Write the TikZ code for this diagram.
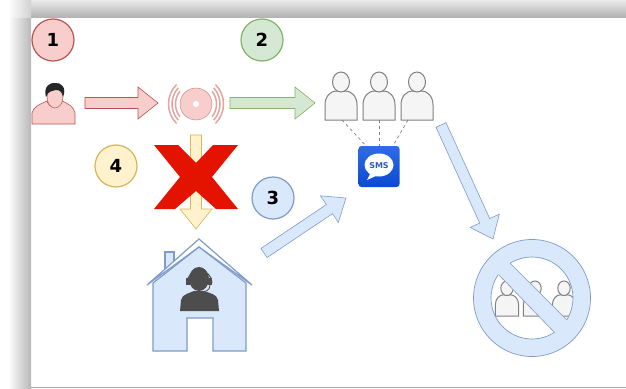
\documentclass[tikz,border=0pt]{standalone}
\usepackage{fontspec}
\usepackage{tikz}
\usetikzlibrary{calc}
\setmainfont{DejaVu Sans}

\definecolor{redfill}{HTML}{F8CECC}
\definecolor{redline}{HTML}{B85450}
\definecolor{greenfill}{HTML}{D5E8D4}
\definecolor{greenline}{HTML}{82B366}
\definecolor{yellowfill}{HTML}{FFF2CC}
\definecolor{yellowline}{HTML}{D6B656}
\definecolor{bluefill}{HTML}{DAE8FC}
\definecolor{blueline}{HTML}{7E9CC6}
\definecolor{grayfill}{HTML}{F5F5F5}
\definecolor{grayline}{HTML}{808080}
\definecolor{agent}{HTML}{4D4D4D}
\definecolor{crossred}{HTML}{E31300}
\definecolor{smstop}{HTML}{2F6CE6}
\definecolor{smsbottom}{HTML}{0A4AD2}
\definecolor{ringpink}{HTML}{E3A3A1}

\tikzset{
	badge/.style={circle,draw=#1line,fill=#1fill,line width=1.2pt,minimum size=42pt,inner sep=0pt,font=\fontsize{18}{18}\selectfont\bfseries},
	blockarrow/.style={draw=#1line,fill=#1fill,line width=.6pt,to path={
		($(\tikztostart)!5.5pt!90:(\tikztotarget)$)
		-- ($(\tikztotarget)!20.7pt!-15.4:(\tikztostart)$)
		-- ($(\tikztotarget)!25.6pt!-38.7:(\tikztostart)$)
		-- (\tikztotarget)
		-- ($(\tikztotarget)!25.6pt!38.7:(\tikztostart)$)
		-- ($(\tikztotarget)!20.7pt!15.4:(\tikztostart)$)
		-- ($(\tikztostart)!5.5pt!-90:(\tikztotarget)$) -- cycle}},
	ringarc/.style={draw=ringpink,line width=1.5pt},
	person/.pic={
		\draw[draw=grayline,fill=grayfill,line width=1pt] (-16,0) -- (-16,-15) .. controls (-16,-24) and (-10,-29) .. (-5,-29) -- (5,-29) .. controls (10,-29) and (16,-24) .. (16,-15) -- (16,0) -- cycle;
		\draw[draw=grayline,fill=grayfill,line width=1pt] (0,-38) ellipse[x radius=8.5,y radius=10];
	}
}

\begin{document}
\begin{tikzpicture}[x=1pt,y=-1pt]
	\useasboundingbox (0,0) rectangle (626,388);

	% frame shadow
	\shade[left color=white,right color=black!28] (8,17) rectangle (31,388);
	\shade[top color=black!8,bottom color=black!30] (31,0) rectangle (626,17);
	\shade[left color=white,right color=black!18] (8,0) rectangle (31,17);
	\fill[black!35] (31,387) rectangle (626,388);

	\coordinate (A1) at (85,103);
	\coordinate (A2) at (158,103);
	\coordinate (G1) at (230,103);
	\coordinate (G2) at (315,103);
	\coordinate (Y1) at (196,135);
	\coordinate (Y2) at (196,229);
	\coordinate (H1) at (264,253);
	\coordinate (H2) at (346,198);
	\coordinate (U1) at (441,125);
	\coordinate (U2) at (493,239);

	\node[badge=red] (B1) at (53,40) {1};
	\node[badge=green] (B2) at (262,40) {2};
	\node[badge=blue] (B3) at (273,198) {3};
	\node[badge=yellow] (B4) at (116,166) {4};

	% caller
	\draw[draw=redline,fill=redfill,line width=.6pt] (32,124) -- (32,113) .. controls (33,107) and (40,104) .. (47,101) .. controls (49,109) and (60,109) .. (62,101) .. controls (69,104) and (74,107) .. (75,113) -- (75,124) -- cycle;
	\draw[draw=redline,fill=redfill,line width=.5pt] (55,97) ellipse[x radius=8,y radius=11];
	\fill[black!85] (46,97) .. controls (43,87) and (50,82) .. (55,83) .. controls (61,82) and (67,88) .. (63,97) .. controls (62,92) and (60,90) .. (56,90) .. controls (52,91) and (48,91) .. (46,97) -- cycle;

	% alarm
	\node[circle,draw=redline!70,fill=redfill,line width=.5pt,minimum size=32pt,inner sep=0pt] (Alarm) at (196,104) {};
	\fill[white] (Alarm) circle[radius=3];
	\draw[ringarc] ([shift={(142:20.5)}]196,104) arc[start angle=142,end angle=218,radius=20.5];
	\draw[ringarc] ([shift={(138:24)}]196,104) arc[start angle=138,end angle=222,radius=24];
	\draw[ringarc] ([shift={(135:27.5)}]196,104) arc[start angle=135,end angle=225,radius=27.5];
	\draw[ringarc] ([shift={(-38:20.5)}]196,104) arc[start angle=-38,end angle=38,radius=20.5];
	\draw[ringarc] ([shift={(-42:24)}]196,104) arc[start angle=-42,end angle=42,radius=24];
	\draw[ringarc] ([shift={(-45:27.5)}]196,104) arc[start angle=-45,end angle=45,radius=27.5];

	\draw[blockarrow=red] (A1) to (A2);
	\draw[blockarrow=green] (G1) to (G2);
	\draw[blockarrow=yellow] (Y1) to (Y2);
	\draw[blockarrow=blue] (H1) to (H2);
	\draw[blockarrow=blue] (U1) to (U2);

	% red cross
	\fill[crossred] (154,145) -- (178,145) -- (196,163) -- (213,145) -- (238,145) -- (212,177) -- (238,209) -- (216,209) -- (196,191) -- (175,209) -- (154,209) -- (180,177) -- cycle;

	% people and sms
	\coordinate (P1) at (341,120);
	\coordinate (P2) at (379,120);
	\coordinate (P3) at (417,120);
	\pic at (P1) {person};
	\pic at (P2) {person};
	\pic at (P3) {person};

	\node[rectangle,rounded corners=3pt,top color=smstop,bottom color=smsbottom,minimum size=41pt,inner sep=0pt] (SMS) at (379,166.5) {};
	\fill[white] (379,165) ellipse[x radius=14.5,y radius=11.5];
	\fill[white] (371,172) -- (367,180) -- (378,175) -- cycle;
	\node[text=smstop!85!black,inner sep=0pt,font=\fontsize{8}{8}\selectfont\bfseries] (SMStext) at (379,165.5) {SMS};

	\draw[dashed,draw=grayline,line width=.7pt] ([xshift=1pt]P1) -- ([xshift=-13pt]SMS.north);
	\draw[dashed,draw=grayline,line width=.7pt] (P2) -- (SMS.north);
	\draw[dashed,draw=grayline,line width=.7pt] ([xshift=-9pt]P3) -- ([xshift=14pt]SMS.north);

	% call centre
	\draw[draw=blueline,fill=bluefill,line width=1.2pt] (165,272) -- (165,252) -- (174,252) -- (174,265);
	\draw[draw=blueline,fill=white,line width=1.2pt] (147,285) -- (199,239) -- (252,285) -- (199,247) -- cycle;
	\draw[draw=blueline,fill=bluefill,line width=1.2pt] (153,283) -- (199,247) -- (246,283) -- (246,351) -- (213,351) -- (213,318) -- (187,318) -- (187,351) -- (153,351) -- cycle;
	\fill[agent] (199,279) ellipse[x radius=10,y radius=12];
	\fill[agent] (180,311) -- (181,300) .. controls (182,294) and (190,293) .. (194,291) -- (204,291) .. controls (209,293) and (217,294) .. (218,300) -- (219,311) -- cycle;
	\draw[draw=agent,line width=1pt] (187,283) arc[start angle=180,end angle=360,radius=12.5];
	\fill[agent] (186,278) rectangle (190,285);
	\fill[agent] (208,278) rectangle (212,285);
	\draw[draw=agent,line width=.8pt] (210,285) .. controls (210,291) and (205,292) .. (199,292);

	% no people
	\coordinate (Q1) at (507,316);
	\coordinate (Q2) at (535,316);
	\coordinate (Q3) at (564,316);
	\begin{scope}
		\clip (532,298) circle[radius=41];
		\pic[scale=.73] at (Q1) {person};
		\pic[scale=.73] at (Q2) {person};
		\pic[scale=.73] at (Q3) {person};
	\end{scope}
	\path[draw=blueline,fill=bluefill,even odd rule,line width=.7pt] (532,298) circle[radius=58.5] (532,298) circle[radius=41];
	\fill[bluefill] (497,273) -- (508,261) -- (569,322) -- (557,335) -- cycle;
	\draw[draw=blueline,line width=.6pt] (499,275) -- (555,333);
	\draw[draw=blueline,line width=.6pt] (510,263) -- (567,320);
\end{tikzpicture}
\end{document}
